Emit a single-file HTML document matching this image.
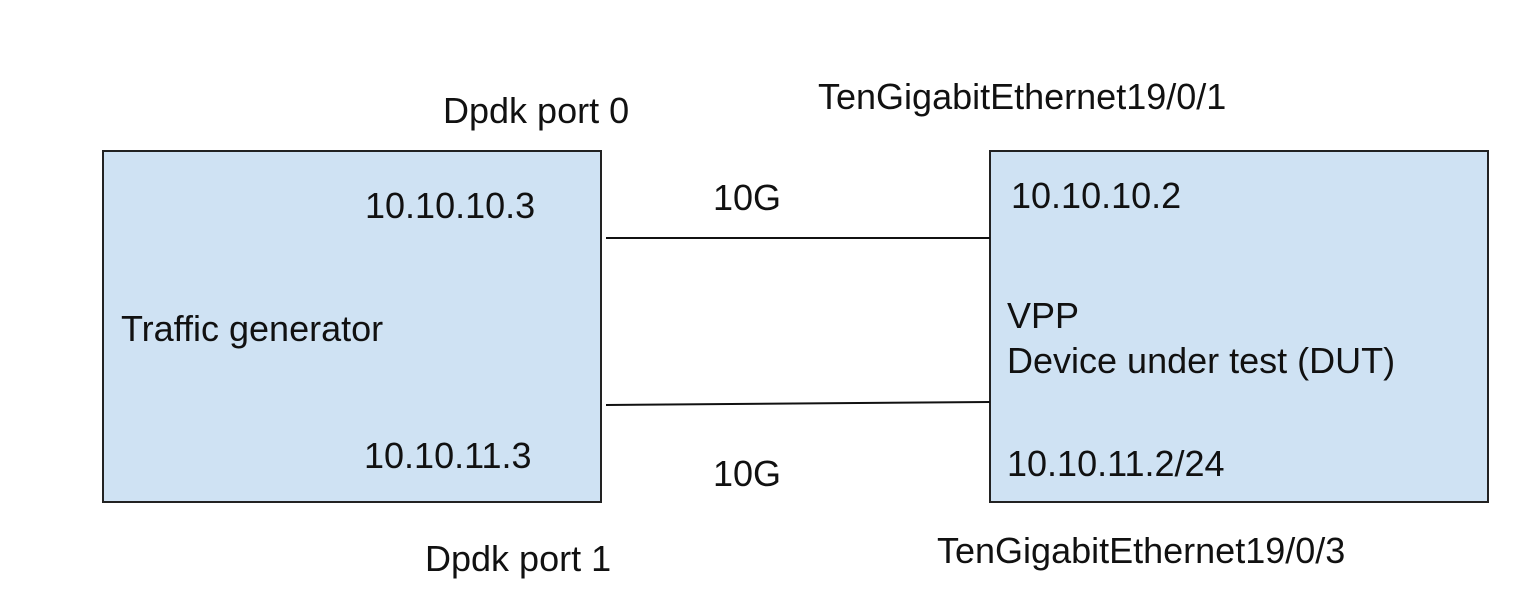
<!DOCTYPE html>
<html><head><style>
body{margin:0;width:1518px;height:602px;background:#fff;position:relative;overflow:hidden;font-family:"Liberation Sans",Arial,sans-serif;}
.b{position:absolute;background:#cfe2f3;border:2px solid #222;box-sizing:border-box;}
.t{position:absolute;font-size:36px;color:#111;white-space:nowrap;line-height:1;}
</style></head><body>
<div class="b" style="left:102px;top:150px;width:500px;height:353px"></div>
<div class="b" style="left:989px;top:150px;width:500px;height:353px"></div>
<svg style="position:absolute;left:0;top:0" width="1518" height="602">
<line x1="606" y1="238" x2="990" y2="238" stroke="#111" stroke-width="2"/>
<line x1="606" y1="405" x2="990" y2="402" stroke="#111" stroke-width="2"/>
</svg>
<div class="t" style="left:443px;top:93px">Dpdk port 0</div>
<div class="t" style="left:818px;top:79px">TenGigabitEthernet19/0/1</div>
<div class="t" style="left:365px;top:188px">10.10.10.3</div>
<div class="t" style="left:713px;top:180px">10G</div>
<div class="t" style="left:1011px;top:178px">10.10.10.2</div>
<div class="t" style="left:121px;top:311px">Traffic generator</div>
<div class="t" style="left:1007px;top:298px">VPP</div>
<div class="t" style="left:1007px;top:343px">Device under test (DUT)</div>
<div class="t" style="left:364px;top:438px">10.10.11.3</div>
<div class="t" style="left:1007px;top:446px">10.10.11.2/24</div>
<div class="t" style="left:713px;top:456px">10G</div>
<div class="t" style="left:425px;top:541px">Dpdk port 1</div>
<div class="t" style="left:937px;top:533px">TenGigabitEthernet19/0/3</div>
</body></html>
